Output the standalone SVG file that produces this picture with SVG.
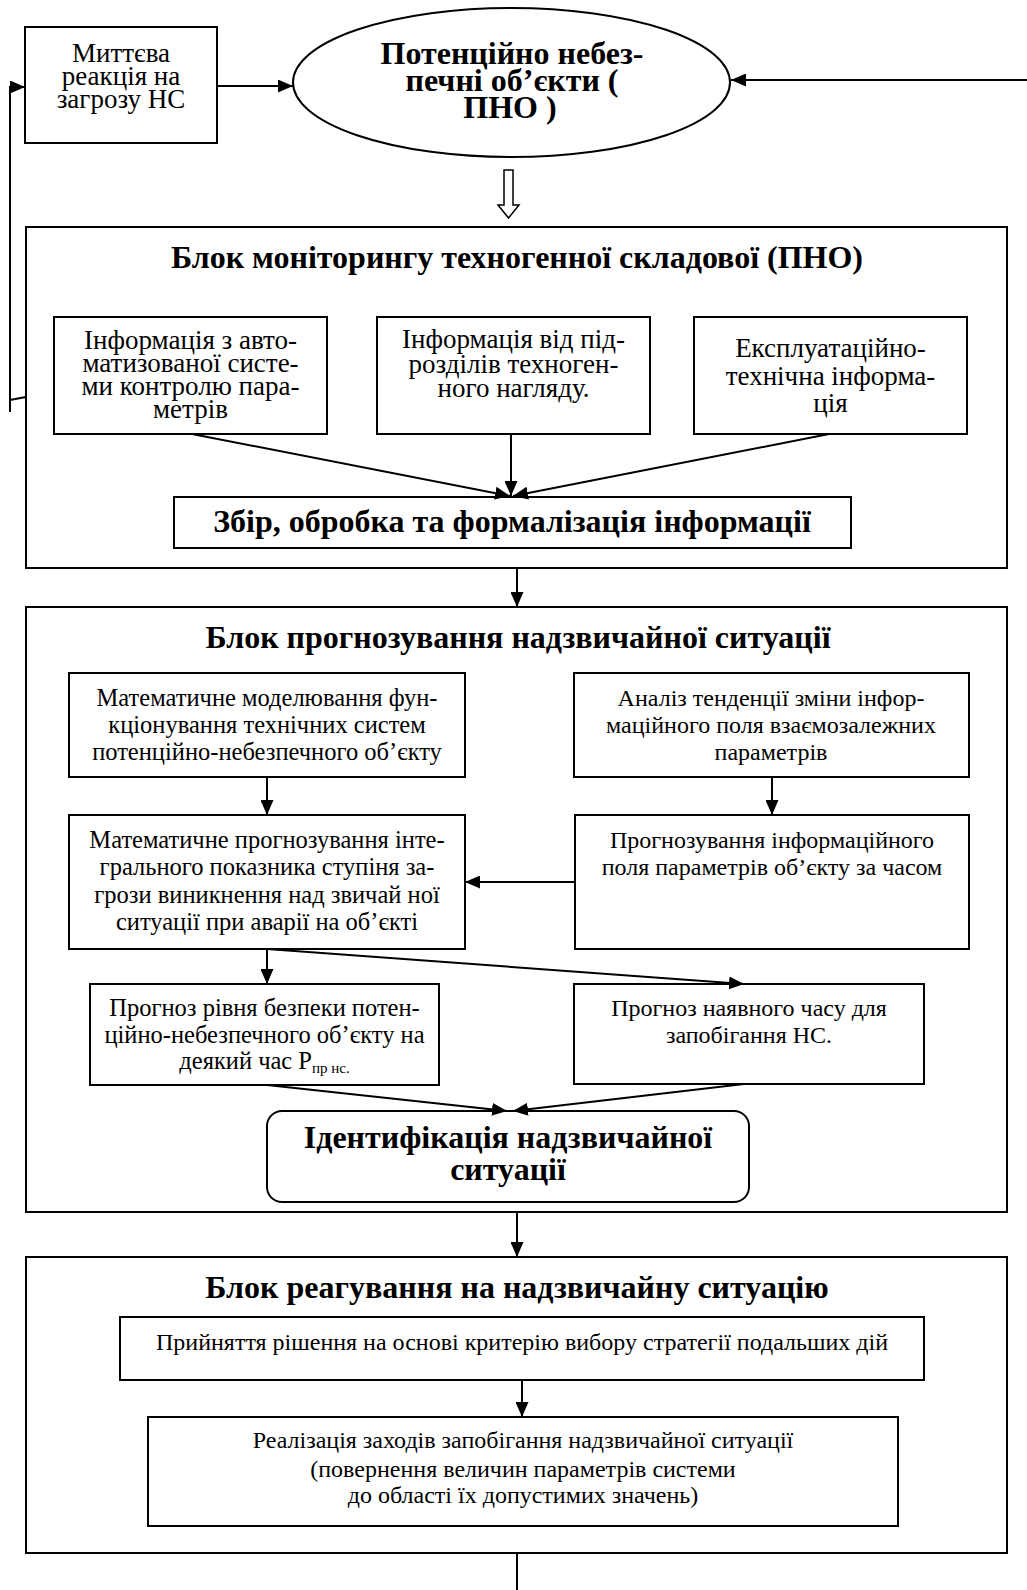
<svg xmlns="http://www.w3.org/2000/svg" width="1027" height="1590" viewBox="0 0 1027 1590">
<defs>
<marker id="arr" markerUnits="userSpaceOnUse" markerWidth="15" markerHeight="13" refX="15" refY="6.5" orient="auto">
<path d="M0,0 L15,6.5 L0,13 z" fill="#000"/>
</marker>
<style>
.box{fill:#fff;stroke:#000;stroke-width:2}
.t{font-family:"Liberation Serif","Times New Roman",serif;font-size:24.5px;fill:#000;text-anchor:middle}
.m{font-size:27px}
.s{font-size:24px}
.b{font-family:"Liberation Serif","Times New Roman",serif;font-size:32px;font-weight:bold;fill:#000;text-anchor:middle}
.c{fill:none;stroke:#000;stroke-width:2}
</style>
</defs>
<rect width="1027" height="1590" fill="#fff"/>

<g id="reaction">
<rect class="box" x="25" y="27" width="192" height="116"/>
<text class="t m" x="121" y="62">Миттєва</text>
<text class="t m" x="121" y="85">реакція на</text>
<text class="t m" x="121" y="108">загрозу НС</text>
</g>

<g id="pno">
<ellipse class="box" cx="511.5" cy="82.5" rx="218.5" ry="74.5"/>
<text class="b" x="512" y="64">Потенційно небез-</text>
<text class="b" x="512" y="91">печні об’єкти (</text>
<text class="b" x="510" y="118">ПНО )</text>
</g>

<g id="monitoring">
<rect class="box" x="26" y="227" width="981" height="341"/>
<text class="b" x="517" y="268">Блок моніторингу техногенної складової (ПНО)</text>
</g>
<g id="mon-a">
<rect class="box" x="54" y="317" width="273" height="117"/>
<text class="t m" x="190.5" y="349">Інформація з авто-</text>
<text class="t m" x="190.5" y="372">матизованої систе-</text>
<text class="t m" x="190.5" y="395">ми контролю пара-</text>
<text class="t m" x="190.5" y="418">метрів</text>
</g>
<g id="mon-b">
<rect class="box" x="377" y="317" width="273" height="117"/>
<text class="t m" x="513.5" y="348">Інформація від під-</text>
<text class="t m" x="513.5" y="373">розділів техноген-</text>
<text class="t m" x="513.5" y="397">ного нагляду.</text>
</g>
<g id="mon-c">
<rect class="box" x="694" y="317" width="273" height="117"/>
<text class="t m" x="830.5" y="357">Експлуатаційно-</text>
<text class="t m" x="830.5" y="385">технічна інформа-</text>
<text class="t m" x="830.5" y="412">ція</text>
</g>
<g id="collect">
<rect class="box" x="174" y="497" width="677" height="51"/>
<text class="b" x="512" y="532">Збір, обробка та формалізація інформації</text>
</g>

<g id="forecast">
<rect class="box" x="26" y="607" width="981" height="605"/>
<text class="b" x="518" y="648">Блок прогнозування надзвичайної ситуації</text>
</g>
<g id="model">
<rect class="box" x="69" y="673" width="396" height="104"/>
<text class="t" x="267" y="706">Математичне моделювання фун-</text>
<text class="t" x="267" y="733">кціонування технічних систем</text>
<text class="t" x="267" y="760">потенційно-небезпечного об’єкту</text>
</g>
<g id="trend">
<rect class="box" x="574" y="673" width="395" height="104"/>
<text class="t s" x="771" y="706">Аналіз тенденції зміни інфор-</text>
<text class="t s" x="771" y="733">маційного поля взаємозалежних</text>
<text class="t s" x="771" y="760">параметрів</text>
</g>
<g id="integral">
<rect class="box" x="69" y="815" width="396" height="134"/>
<text class="t" x="267" y="848">Математичне прогнозування інте-</text>
<text class="t" x="267" y="875">грального показника ступіня за-</text>
<text class="t" x="267" y="903">грози виникнення над звичай ної</text>
<text class="t" x="267" y="930">ситуації при аварії на об’єкті</text>
</g>
<g id="field">
<rect class="box" x="575" y="815" width="394" height="134"/>
<text class="t s" x="772" y="848">Прогнозування інформаційного</text>
<text class="t s" x="772" y="875">поля параметрів об’єкту  за часом</text>
</g>
<g id="safety">
<rect class="box" x="90" y="984" width="349" height="101"/>
<text class="t" x="264.5" y="1016" font-size="23">Прогноз рівня безпеки потен-</text>
<text class="t" x="264.5" y="1043" font-size="23">ційно-небезпечного об’єкту на</text>
<text class="t" x="264.5" y="1069" font-size="23">деякий час P<tspan font-size="15" dy="4">пр нс.</tspan></text>
</g>
<g id="time">
<rect class="box" x="574" y="984" width="350" height="100"/>
<text class="t s" x="749" y="1016">Прогноз наявного часу для</text>
<text class="t s" x="749" y="1043">запобігання НС.</text>
</g>
<g id="ident">
<rect class="box" x="267" y="1111" width="482" height="91" rx="15"/>
<text class="b" x="508" y="1148">Ідентифікація  надзвичайної</text>
<text class="b" x="508" y="1180">ситуації</text>
</g>

<g id="response">
<rect class="box" x="26" y="1257" width="981" height="296"/>
<text class="b" x="517" y="1298">Блок реагування на надзвичайну ситуацію</text>
</g>
<g id="decision">
<rect class="box" x="120" y="1317" width="804" height="63"/>
<text class="t s" x="522" y="1350">Прийняття рішення на основі критерію вибору стратегії подальших дій</text>
</g>
<g id="measures">
<rect class="box" x="148" y="1417" width="750" height="109"/>
<text class="t s" x="523" y="1448">Реалізація заходів запобігання надзвичайної ситуації</text>
<text class="t s" x="523" y="1477">(повернення величин параметрів системи</text>
<text class="t s" x="523" y="1503">до області їх допустимих значень)</text>
</g>

<g id="connectors">
<line class="c" x1="217" y1="86" x2="293" y2="86" marker-end="url(#arr)"/>
<line class="c" x1="1027" y1="80" x2="731" y2="80" marker-end="url(#arr)"/>
<path class="c" d="M10,412 L10,87 L25,87" marker-end="url(#arr)"/>
<line class="c" x1="26" y1="397" x2="10" y2="400"/>
<path d="M504,170 L513,170 L513,205 L519,205 L508.5,218 L498,205 L504,205 z" fill="#fff" stroke="#000" stroke-width="1.5"/>
<line class="c" x1="192" y1="434" x2="510" y2="496" marker-end="url(#arr)"/>
<line class="c" x1="511" y1="434" x2="511" y2="496" marker-end="url(#arr)"/>
<line class="c" x1="829" y1="434" x2="513" y2="496" marker-end="url(#arr)"/>
<line class="c" x1="517" y1="568" x2="517" y2="607" marker-end="url(#arr)"/>
<line class="c" x1="267" y1="777" x2="267" y2="815" marker-end="url(#arr)"/>
<line class="c" x1="772" y1="777" x2="772" y2="815" marker-end="url(#arr)"/>
<line class="c" x1="575" y1="882" x2="465" y2="882" stroke-width="3" marker-end="url(#arr)"/>
<line class="c" x1="267" y1="949" x2="267" y2="984" marker-end="url(#arr)"/>
<line class="c" x1="267" y1="949" x2="744" y2="984" marker-end="url(#arr)"/>
<line class="c" x1="267" y1="1085" x2="507" y2="1111" marker-end="url(#arr)"/>
<line class="c" x1="744" y1="1084" x2="513" y2="1111" marker-end="url(#arr)"/>
<line class="c" x1="517" y1="1212" x2="517" y2="1257" marker-end="url(#arr)"/>
<line class="c" x1="522" y1="1380" x2="522" y2="1417" marker-end="url(#arr)"/>
<line class="c" x1="517" y1="1553" x2="517" y2="1590"/>
</g>
</svg>
